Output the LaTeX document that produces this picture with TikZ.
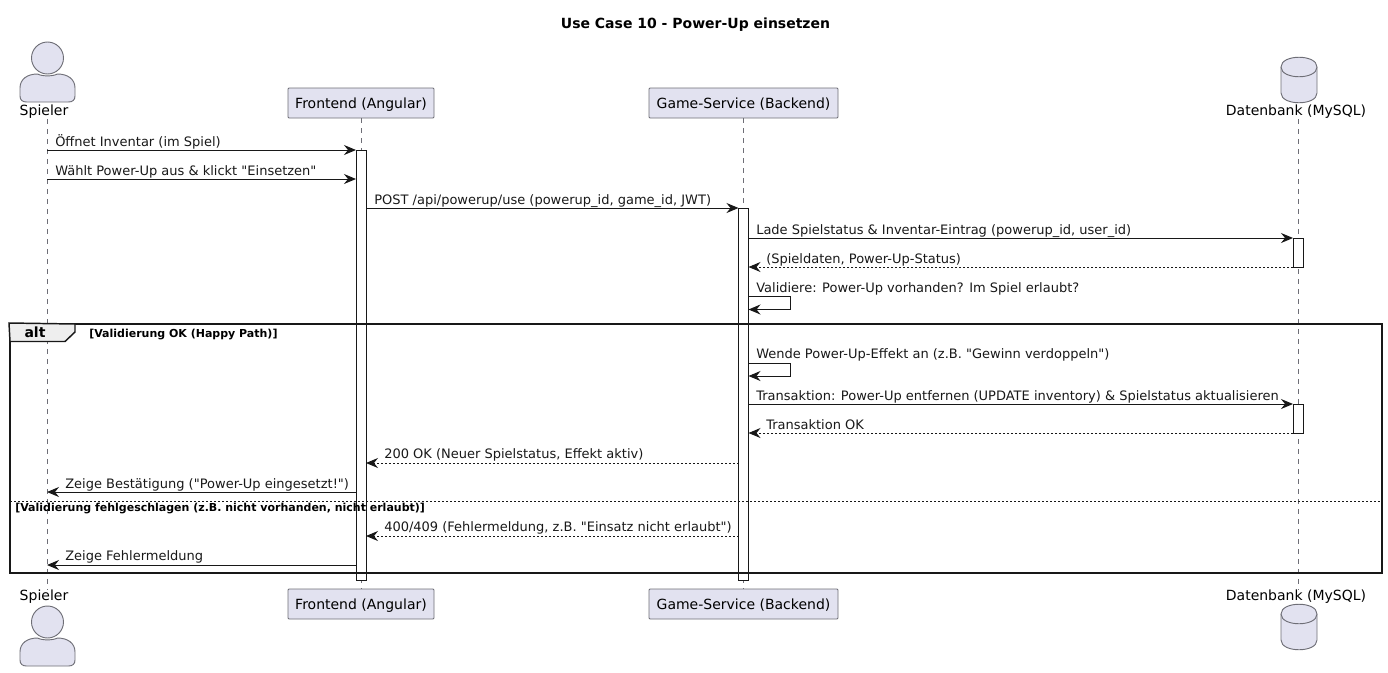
\documentclass[tikz,border=0pt]{standalone}
\usepackage{fontspec}
\usepackage{xcolor}
\setmainfont{DejaVu Sans}[Ligatures=TeXOff]
\usetikzlibrary{positioning,arrows.meta}
\definecolor{umlfill}{RGB}{226, 226, 240}
\definecolor{umlline}{RGB}{24, 24, 24}
\definecolor{umlgrey}{RGB}{110, 110, 118}
\definecolor{umltab}{RGB}{238, 238, 238}
\tikzset{
  part/.style={rectangle, draw=umlgrey, fill=umlfill, rounded corners=0.8pt, line width=0.7pt, inner xsep=0pt, inner ysep=0pt, minimum height=22.5pt, text height=8pt, text depth=0pt, font=\fontsize{10.5}{12}\selectfont},
  head/.style={font=\fontsize{10.5}{12}\selectfont, inner sep=0pt},
  lbl/.style={anchor=base west, inner sep=0pt, text=umlline, font=\fontsize{9.75}{11}\selectfont},
  cond/.style={anchor=base west, inner sep=0pt, text=black, font=\fontsize{8.25}{10}\selectfont\bfseries},
  life/.style={draw=umlgrey, line width=0.6pt, dash pattern=on 3.75pt off 3.75pt},
  bar/.style={rectangle, draw=umlline, fill=white, line width=0.75pt, inner sep=0pt, outer sep=0pt, minimum width=7.5pt},
  msg/.style={draw=umlline, line width=0.75pt, -{Stealth[length=9pt, width=7.5pt, inset=3pt]}},
  ret/.style={msg, dash pattern=on 1.5pt off 1.5pt},
  shape body/.style={draw=umlgrey, fill=umlfill, line width=0.7pt},
  spielerfig/.pic={
    \draw[shape body] (0,0) circle[radius=16];
    \draw[shape body] (-27.5,30) .. controls (-27.5,21) and (-20,16) .. (-10,16) .. controls (-5,18.5) and (5,18.5) .. (10,16) .. controls (20,16) and (27.5,21) .. (27.5,30) -- (27.5,38) .. controls (27.5,42) and (25,44) .. (21,44) -- (-21,44) .. controls (-25,44) and (-27.5,42) .. (-27.5,38) -- cycle;
  },
  dbfig/.pic={
    \draw[shape body] (-18,10) .. controls (-18,-3) and (18,-3) .. (18,10) -- (18,36) .. controls (18,49) and (-18,49) .. (-18,36) -- cycle;
    \draw[shape body] (-18,10) .. controls (-18,23) and (18,23) .. (18,10);
  },
}

\begin{document}
\begin{tikzpicture}[x=0.75pt, y=-0.75pt]
\useasboundingbox (0,0) rectangle (1388,672);

\node[font=\fontsize{10.5}{12}\selectfont\bfseries, inner sep=0pt] (title) at (695.5,24.5) {Use Case 10 - Power-Up einsetzen};

% lifelines
\coordinate (spieler) at (47,119);
\coordinate (spielerfoot) at (47,590);
\coordinate (db) at (1298,119);
\coordinate (dbfoot) at (1298,590);
\node[part, minimum width=109.5pt] (fe) at (361,103) {Frontend (Angular)};
\node[part, minimum width=141.75pt] (gs) at (743.5,103) {Game-Service (Backend)};
\node[part, minimum width=109.5pt] (fefoot) at (361,604) {Frontend (Angular)};
\node[part, minimum width=141.75pt] (gsfoot) at (743.5,604) {Game-Service (Backend)};

\draw[life] (spieler) -- (spielerfoot);
\draw[life] (fe) -- (fefoot);
\draw[life] (gs) -- (gsfoot);
\draw[life] (db) -- (dbfoot);

% actors
\pic at (47.5,58) {spielerfig};
\pic at (47.5,622) {spielerfig};
\pic at (1299,57) {dbfig};
\pic at (1299,604) {dbfig};
\node[head] (sptop) at (44,111.5) {Spieler};
\node[head] (spbot) at (44,596.5) {Spieler};
\node[head] (dbtop) at (1296,111.5) {Datenbank (MySQL)};
\node[head] (dbbot) at (1296,596.5) {Datenbank (MySQL)};

% activations
\node[bar, minimum height=322.5pt] (febar) at (361,365) {};
\node[bar, minimum height=279pt] (gsbar) at (743.5,394) {};
\node[bar, minimum height=21.75pt] (dbbar) at (1298,252.5) {};
\node[bar, minimum height=21.75pt] (dbbarb) at (1298,418.5) {};

% alt frame
\node[rectangle, draw=umlline, line width=1.5pt, inner sep=0pt, minimum width=1029pt, minimum height=186.75pt] (frame) at (696,448.5) {};
\draw[draw=umlline, line width=1.1pt, fill=umltab] (frame.north west) -- (75,324) -- (75,332) -- (65,341.5) -- (10,341.5) -- cycle;
\node[font=\fontsize{10.5}{12}\selectfont\bfseries, inner sep=0pt] (alt) at (35,332) {alt};
\node[cond] (c1) at (89,337) {[Validierung OK (Happy Path)]};
\coordinate (sepl) at (10,501);
\coordinate (sepr) at (1382,501);
\draw[draw=umlline, line width=0.75pt, dash pattern=on 1.5pt off 1.5pt] (sepl) -- (sepr);
\node[cond] (c2) at (15,511) {[Validierung fehlgeschlagen (z.B. nicht vorhanden, nicht erlaubt)]};

% rows
\coordinate (m1) at (0,150);
\coordinate (m2) at (0,179);
\coordinate (m3) at (0,208);
\coordinate (m4) at (0,238);
\coordinate (m5) at (0,267);
\coordinate (m6) at (0,296.5);
\coordinate (m6b) at (0,309.5);
\coordinate (m7) at (0,363);
\coordinate (m7b) at (0,376);
\coordinate (m8) at (0,404);
\coordinate (m9) at (0,433);
\coordinate (m10) at (0,463);
\coordinate (m11) at (0,492);
\coordinate (m12) at (0,536);
\coordinate (m13) at (0,565);
\coordinate (selfr) at (790,0);

\draw[msg] (spieler |- m1) -- (febar.west |- m1);
\draw[msg] (spieler |- m2) -- (febar.west |- m2);
\draw[msg] (febar.east |- m3) -- (gsbar.west |- m3);
\draw[msg] (gsbar.east |- m4) -- (dbbar.west |- m4);
\draw[ret] (dbbar.west |- m5) -- (gsbar.east |- m5);
\draw[msg] (gsbar.east |- m6) -- (selfr |- m6) -- (selfr |- m6b) -- (gsbar.east |- m6b);
\draw[msg] (gsbar.east |- m7) -- (selfr |- m7) -- (selfr |- m7b) -- (gsbar.east |- m7b);
\draw[msg] (gsbar.east |- m8) -- (dbbarb.west |- m8);
\draw[ret] (dbbarb.west |- m9) -- (gsbar.east |- m9);
\draw[ret] (gsbar.west |- m10) -- (febar.east |- m10);
\draw[msg] (febar.west |- m11) -- (spieler |- m11);
\draw[ret] (gsbar.west |- m12) -- (febar.east |- m12);
\draw[msg] (febar.west |- m13) -- (spieler |- m13);

\node[lbl] (t1) at (55,146) {Öffnet Inventar (im Spiel)};
\node[lbl] (t2) at (55,175) {Wählt Power-Up aus \& klickt "Einsetzen"};
\node[lbl] (t3) at (374,204) {POST /api/powerup/use (powerup\_id, game\_id, JWT)};
\node[lbl] (t4) at (756,234) {Lade Spielstatus \& Inventar-Eintrag (powerup\_id, user\_id)};
\node[lbl] (t5) at (766,263) {(Spieldaten, Power-Up-Status)};
\node[lbl] (t6) at (756,292) {Validiere: Power-Up vorhanden? Im Spiel erlaubt?};
\node[lbl] (t7) at (756,358) {Wende Power-Up-Effekt an (z.B. "Gewinn verdoppeln")};
\node[lbl] (t8) at (756,400) {Transaktion: Power-Up entfernen (UPDATE inventory) \& Spielstatus aktualisieren};
\node[lbl] (t9) at (766,429) {Transaktion OK};
\node[lbl] (t10) at (384,458) {200 OK (Neuer Spielstatus, Effekt aktiv)};
\node[lbl] (t11) at (65,488) {Zeige Bestätigung ("Power-Up eingesetzt!")};
\node[lbl] (t12) at (384,531) {400/409 (Fehlermeldung, z.B. "Einsatz nicht erlaubt")};
\node[lbl] (t13) at (65,560) {Zeige Fehlermeldung};
\end{tikzpicture}
\end{document}
